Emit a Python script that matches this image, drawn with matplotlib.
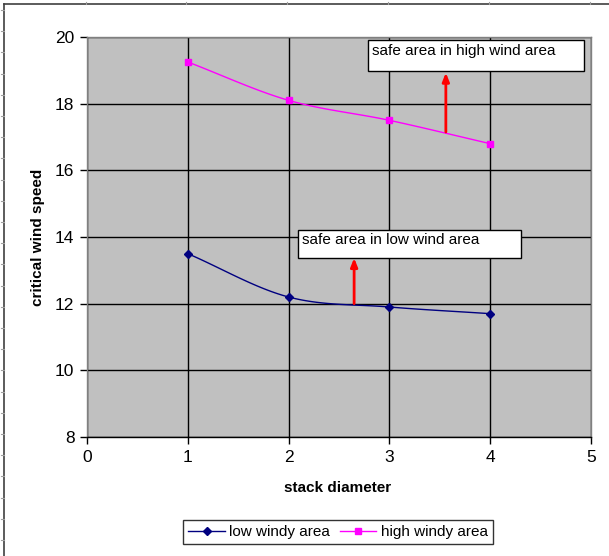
import numpy as np
import matplotlib
matplotlib.use("Agg")
import matplotlib.pyplot as plt
from matplotlib.lines import Line2D
from matplotlib.patches import Rectangle

plt.rcParams['font.family'] = ['Liberation Sans', 'DejaVu Sans']

x_vals = [1, 2, 3, 4]
low_windy = [13.5, 12.2, 11.9, 11.7]
high_windy = [19.25, 18.1, 17.5, 16.8]
series_names = ["low windy area", "high windy area"]
x_ticks = [0, 1, 2, 3, 4, 5]
y_ticks = [8, 10, 12, 14, 16, 18, 20]
note_high = "safe area in high wind area"
note_low = "safe area in low wind area"


def smooth(xs, ys, n=30):
    # Excel-style smoothed line (Catmull-Rom through the points)
    xs = np.asarray(xs, float); ys = np.asarray(ys, float)
    P = np.column_stack([xs, ys])
    P = np.vstack([P[0] - (P[1] - P[0]), P, P[-1] + (P[-1] - P[-2])])
    out = []
    t = np.linspace(0, 1, n)
    for i in range(1, len(P) - 2):
        p0, p1, p2, p3 = P[i - 1], P[i], P[i + 1], P[i + 2]
        b1 = p1 + (p2 - p0) / 6.0
        b2 = p2 - (p3 - p1) / 6.0
        seg = ((1 - t) ** 3)[:, None] * p1 + (3 * (1 - t) ** 2 * t)[:, None] * b1 \
            + (3 * (1 - t) * t ** 2)[:, None] * b2 + (t ** 3)[:, None] * p2
        out.append(seg)
    s = np.vstack(out)
    return s[:, 0], s[:, 1]


fig = plt.figure(figsize=(6.09, 5.56), dpi=100)
ax = fig.add_axes([87 / 609, 1 - 437 / 556, (591 - 87) / 609, (437 - 37) / 556])
ax.set_facecolor('#C0C0C0')
ax.set_xlim(0, 5)
ax.set_ylim(8, 20)
ax.set_xticks(x_ticks)
ax.set_yticks(y_ticks)
ax.grid(True, color='black', linewidth=1.0)
ax.set_axisbelow(True)
for s in ax.spines.values():
    s.set_color('#808080')
    s.set_linewidth(1.0)
ax.spines['bottom'].set_color('black')
ax.tick_params(direction='out', length=5, width=1, labelsize=12.5, color='black', pad=4)

sx, sy = smooth(x_vals, low_windy)
ax.plot(sx, sy, color='#000080', lw=1.0, zorder=3)
ax.plot(x_vals, low_windy, linestyle='none', marker='D', markersize=4.5,
        color='#000080', zorder=4)
sx, sy = smooth(x_vals, high_windy)
ax.plot(sx, sy, color='#FF00FF', lw=1.0, zorder=3)
ax.plot(x_vals, high_windy, linestyle='none', marker='s', markersize=5,
        color='#FF00FF', zorder=4)

# annotation boxes
ax.add_patch(Rectangle((2.79, 18.98), 2.14, 0.93, fc='white', ec='black', lw=1.0, zorder=6))
ax.text(2.83, 19.58, note_high, fontsize=11, va='center', ha='left', zorder=7)
ax.add_patch(Rectangle((2.09, 13.37), 2.22, 0.83, fc='white', ec='black', lw=1.0, zorder=6))
ax.text(2.13, 13.9, note_low, fontsize=11, va='center', ha='left', zorder=7)
ax.annotate('', xy=(3.56, 18.93), xytext=(3.56, 17.15),
            arrowprops=dict(arrowstyle='-|>,head_length=0.5,head_width=0.2',
                            color='red', lw=2, shrinkA=0, shrinkB=0), zorder=5)
ax.annotate('', xy=(2.65, 13.37), xytext=(2.65, 12.0),
            arrowprops=dict(arrowstyle='-|>,head_length=0.5,head_width=0.2',
                            color='red', lw=2, shrinkA=0, shrinkB=0), zorder=5)

fig.text(38 / 609, 1 - 237 / 556, 'critical wind speed', rotation=90, fontsize=11,
         fontweight='bold', ha='center', va='center')
fig.text(338 / 609, 1 - 488 / 556, 'stack diameter', fontsize=11,
         fontweight='bold', ha='center', va='center')

handles = [Line2D([], [], color='#000080', marker='D', markersize=4, lw=1),
           Line2D([], [], color='#FF00FF', marker='s', markersize=4, lw=1)]
leg = fig.legend(handles, series_names, loc='center', bbox_to_anchor=(338 / 609, 1 - 532 / 556),
                 ncol=2, fontsize=11, frameon=True, fancybox=False, edgecolor='black',
                 handlelength=2.4, handletextpad=0.3, columnspacing=0.6, borderpad=0.35)
leg.get_frame().set_linewidth(1.0)

# outer frame lines (ruler-like)
fc = '#404040'
fig.add_artist(Line2D([4 / 609, 4 / 609], [0, 1 - 4 / 556], color=fc, lw=1.2))
fig.add_artist(Line2D([4 / 609, 1], [1 - 4 / 556, 1 - 4 / 556], color=fc, lw=1.2))
for yy in np.arange(10, 556, 21.2):
    fig.add_artist(Line2D([1 / 609, 4 / 609], [1 - yy / 556, 1 - yy / 556], color='#A0A0A0', lw=0.8))
for xx in [86, 186, 287, 388, 489, 590]:
    fig.add_artist(Line2D([xx / 609, xx / 609], [1 - 4 / 556, 1 - 2 / 556], color='#A0A0A0', lw=0.8))

fig.savefig('out.png', dpi=100)
